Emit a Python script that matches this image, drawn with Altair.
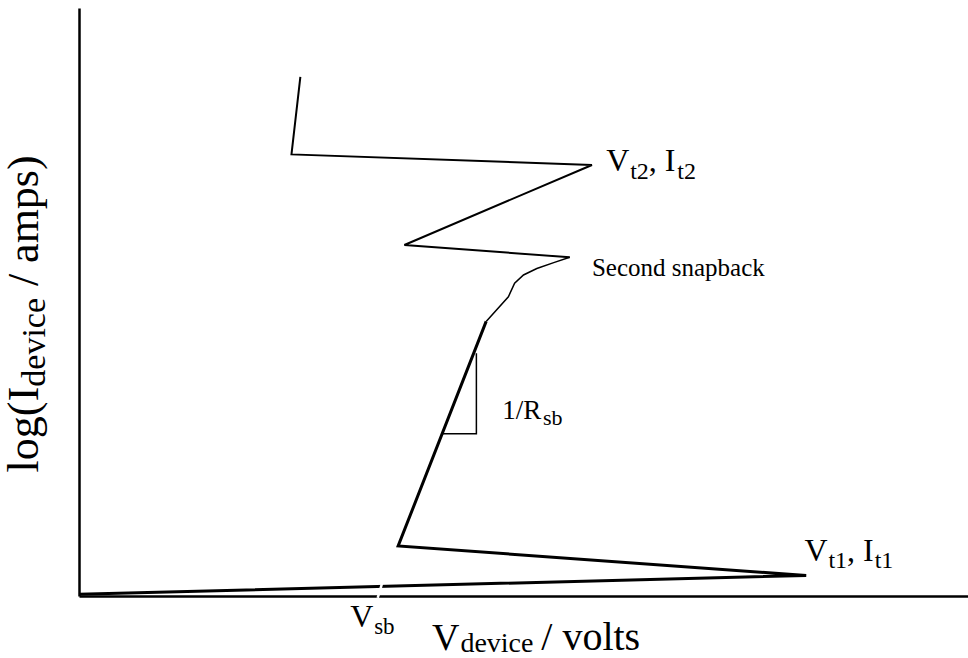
import altair as alt
import pandas as pd

# Snapback I-V trace, in arbitrary volts (x) and log-amps (y) units
trace_v = [0.0, 8.18, 3.59, 4.58,
           4.58, 4.83, 4.90, 5.00, 5.15, 5.34, 5.52,
           5.52, 3.66, 5.77, 2.39, 2.49]
trace_logi = [0.03, 0.35, 0.85, 4.67,
              4.67, 5.09, 5.32, 5.46, 5.57, 5.67, 5.76,
              5.76, 5.97, 7.33, 7.51, 8.83]
trace_part = ["snap1"] * 4 + ["knee"] * 7 + ["snap2"] * 5
part_width = {"snap1": 3.0, "knee": 1.5, "snap2": 2.0}

# Slope triangle marking 1/R_sb
slope_v = [4.09, 4.47, 4.47]
slope_logi = [2.76, 2.76, 4.13]

# Break mark on the axis at V_sb
break_v = [3.36, 3.41]
break_logi = [-0.03, 0.22]

NBSP = "\u00a0"

# Annotation pieces (main text and subscripts)
label_text = ["V", "t2", ", I", "t2",
              "Second snapback",
              "1/R", "sb",
              "V", "t1", ", I", "t1",
              "V", "sb",
              "V", "device", "/" + NBSP + "volts"]
label_v = [5.93, 6.20, 6.41, 6.73,
           5.77,
           4.76, 5.22,
           8.16, 8.43, 8.64, 8.95,
           3.05, 3.32,
           3.97, 4.29, 5.20]
label_logi = [7.23, 7.09, 7.23, 7.09,
              5.44,
              3.01, 2.91,
              0.595, 0.476, 0.595, 0.476,
              -0.527, -0.646,
              -0.918, -0.952, -0.918]
label_size = [32, 24, 32, 24,
              25,
              27, 22,
              32, 24, 32, 24,
              32, 23,
              38, 28, 40]

# Vertical axis title pieces, read bottom to top
ytitle_text = ["log(", "I", "device", "/" + NBSP + "amps)"]
ytitle_v = [-0.46, -0.46, -0.38, -0.46]
ytitle_logi = [2.10, 3.31, 3.56, 5.27]
ytitle_size = [44, 44, 34, 44]

trace = pd.DataFrame({
    "v": trace_v, "logi": trace_logi, "part": trace_part,
    "order": list(range(len(trace_v))),
})
trace["w"] = trace["part"].map(part_width)
slope = pd.DataFrame({"v": slope_v, "logi": slope_logi, "order": [0, 1, 2]})
brk = pd.DataFrame({"v": break_v, "logi": break_logi, "order": [0, 1]})
labels = pd.DataFrame({"v": label_v, "logi": label_logi,
                       "text": label_text, "size": label_size})
ytitle = pd.DataFrame({"v": ytitle_v, "logi": ytitle_logi,
                       "text": ytitle_text, "size": ytitle_size})

xs = alt.Scale(domain=[0, 10], nice=False, zero=False)
ys = alt.Scale(domain=[0, 10], nice=False, zero=False)
ax = alt.Axis(domain=True, domainColor="black", domainWidth=2.5,
              ticks=False, labels=False, grid=False, title=None)

curve = alt.Chart(trace).mark_line(color="black", strokeJoin="miter").encode(
    x=alt.X("v:Q", scale=xs, axis=ax),
    y=alt.Y("logi:Q", scale=ys, axis=ax),
    detail="part:N",
    order="order:Q",
    strokeWidth=alt.StrokeWidth("w:Q", scale=None),
)

tri = alt.Chart(slope).mark_line(color="black", strokeWidth=1.5).encode(
    x=alt.X("v:Q", scale=xs), y=alt.Y("logi:Q", scale=ys), order="order:Q"
)

gap = alt.Chart(brk).mark_line(color="white", strokeWidth=2.5).encode(
    x=alt.X("v:Q", scale=xs), y=alt.Y("logi:Q", scale=ys), order="order:Q"
)

text = alt.Chart(labels).mark_text(
    font="Liberation Serif", align="left", baseline="alphabetic", color="black"
).encode(
    x=alt.X("v:Q", scale=xs), y=alt.Y("logi:Q", scale=ys),
    text="text:N", size=alt.Size("size:Q", scale=None),
)

ytext = alt.Chart(ytitle).mark_text(
    font="Liberation Serif", align="left", baseline="alphabetic",
    color="black", angle=270
).encode(
    x=alt.X("v:Q", scale=xs), y=alt.Y("logi:Q", scale=ys),
    text="text:N", size=alt.Size("size:Q", scale=None),
)

chart = alt.layer(curve, tri, gap, text, ytext).properties(
    width=889, height=588,
    autosize=alt.AutoSizeParams(type="none"),
    padding={"left": 79, "top": 8, "right": 0, "bottom": 62},
    background="white",
).configure_view(strokeWidth=0)

chart.save("out.html", embed_options={"renderer": "svg", "actions": False})
